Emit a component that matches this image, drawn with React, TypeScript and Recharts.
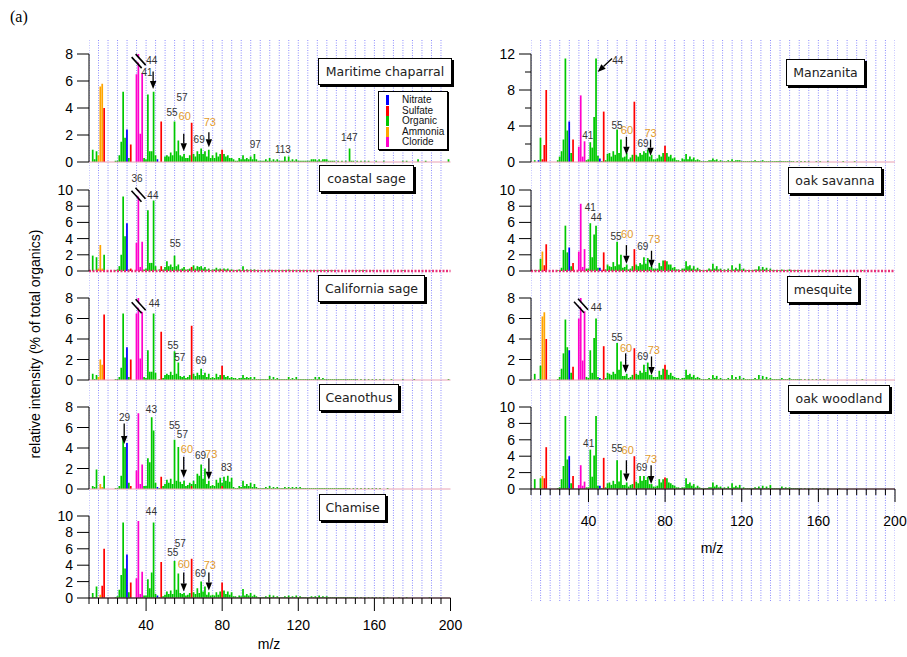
import { BarChart, Bar, XAxis, YAxis, ReferenceLine, ReferenceDot, CartesianGrid } from 'recharts';

type Ion = [number, string, number]; // m/z, species, value
type Note = [number, number, string, string?]; // m/z, y, text, colour flag
type Arrow = [number, number, number, number]; // x1, y1, x2, y2 (data units)
type Brk = [number, number]; // m/z, y of the axis break glyph

// ---- axes ----
const mzTicks = [10, 15, 20, 25, 30, 35, 40, 45, 50, 55, 60, 65, 70, 75, 80, 85, 90, 95, 100, 105, 110,
  115, 120, 125, 130, 135, 140, 145, 150, 155, 160, 165, 170, 175, 180, 185, 190, 195, 200];
const mzLabels = [40, 80, 120, 160, 200];
const yTicks8 = [0, 2, 4, 6, 8];
const yTicks10 = [0, 2, 4, 6, 8, 10];
const yTicks12 = [0, 2, 4, 6, 8, 10, 12];
const yLabels12 = [0, 4, 8, 12];

const legendKeys = ['N', 'S', 'O', 'A', 'C'];
const legendNames = ['Nitrate', 'Sulfate', 'Organic', 'Ammonia', 'Cloride'];

// ---- organic spectra, m/z 10, 11, 12 ... (10 values per row) ----
const maritimeOrg = [
  0, 0, 0.9, 0.2, 0.8, 0, 0, 0, 0, 0,
  0, 0, 0, 0, 0.1, 0.1, 0.5, 1.5, 5.2, 1.8,
  0, 0.3, 0, 0, 0, 0, 0, 0, 0, 0.3,
  0.2, 5.0, 0.8, 0.8, 5.2, 0.5, 0, 0, 0, 0,
  0.4, 0.5, 0.4, 0.7, 0.5, 3.0, 0.8, 1.6, 0.5, 0.4,
  0.6, 0.3, 0.3, 0.5, 0, 0.6, 0.4, 0.8, 0.6, 1.0,
  0.6, 0.8, 0.4, 0.9, 0.3, 0.5, 0.3, 0.7, 0.4, 0.6,
  0, 0.6, 0.4, 0.5, 0.3, 0.3, 0.2, 0.1, 0.1, 0.3,
  0.2, 0.5, 0.2, 0.3, 0.2, 0.4, 0.2, 0.6, 0.2, 0.1,
  0.1, 0.1, 0.1, 0.2, 0.1, 0.3, 0.1, 0.2, 0.1, 0.2,
  0.1, 0.1, 0.1, 0.4, 0.1, 0.4, 0.1, 0.2, 0.1, 0.2,
  0.1, 0.1, 0.1, 0.1, 0.1, 0.1, 0.1, 0.2, 0.2, 0.2,
  0.1, 0.2, 0.1, 0.2, 0.2, 0.2, 0.1, 0.1, 0.1, 0.1,
  0, 0.1, 0, 0.1, 0, 0.1, 0, 1.0, 0.1, 0.1,
  0, 0.1, 0, 0.1, 0, 0.1, 0, 0.1, 0, 0,
  0, 0.1, 0, 0, 0, 0.1, 0, 0, 0, 0,
  0, 0, 0, 0, 0, 0.1, 0, 0.1, 0, 0,
  0, 0, 0, 0.2, 0, 0, 0, 0.1, 0, 0,
  0, 0, 0, 0, 0, 0, 0, 0, 0, 0.2,
];
const coastalOrg = [
  0, 0, 1.9, 0, 1.7, 0, 0, 0, 2.0, 0,
  0, 0, 0, 0, 0.1, 0.2, 0.6, 2.0, 9.2, 4.3,
  0, 0.2, 0, 0, 0, 0, 0, 0, 0, 0.2,
  0.3, 7.5, 1.0, 1.0, 8.7, 0.6, 0, 0.2, 0, 0.2,
  0.5, 1.2, 0.6, 0.8, 0.5, 1.9, 0.6, 0.8, 0.2, 0.3,
  0.5, 0.2, 0.2, 0.3, 0, 0.7, 0.3, 0.6, 0.5, 0.6,
  0.3, 0.5, 0.2, 0.3, 0.1, 0.2, 0.2, 0.4, 0.2, 0.3,
  0, 0.3, 0.2, 0.3, 0.1, 0.2, 0.1, 0.1, 0.1, 0.2,
  0.1, 0.6, 0.1, 0.2, 0.1, 0.2, 0.1, 0.2, 0.1, 0.1,
  0.1, 0.1, 0.1, 0.1, 0.1, 0.2, 0.1, 0.1, 0.1, 0.1,
  0.1, 0.1, 0.1, 0.1, 0.1, 0.2, 0.1, 0.1, 0.1, 0.1,
  0.1, 0.1, 0.1, 0.1, 0.1, 0.1, 0.1, 0.1, 0.1, 0.1,
  0.1, 0.1, 0.1, 0.1, 0.1, 0.1, 0.1, 0.1, 0.1, 0.1,
  0, 0.1, 0, 0.1, 0, 0.1, 0, 0.1, 0, 0.1,
  0, 0.1, 0, 0.1, 0, 0.1, 0, 0, 0, 0.1,
  0, 0, 0, 0.1, 0, 0, 0, 0, 0, 0,
  0, 0, 0, 0, 0, 0.1, 0, 0, 0, 0,
];
const californiaOrg = [
  0, 0, 0.6, 0.1, 0.5, 0, 0, 0, 0, 0,
  0, 0, 0, 0, 0.1, 0.1, 0.3, 1.2, 6.5, 2.2,
  0, 0.3, 0, 0, 0, 0, 0, 0, 0, 0.3,
  0.2, 2.9, 0.8, 0.8, 6.5, 0.7, 0, 0.1, 0, 0.2,
  0.5, 0.6, 0.5, 0.8, 0.5, 2.8, 0.6, 1.7, 0.4, 0.3,
  0.4, 0.2, 0.3, 0.5, 0, 0.6, 0.4, 0.7, 0.5, 1.1,
  0.5, 0.7, 0.3, 0.6, 0.2, 0.3, 0.2, 0.6, 0.3, 0.5,
  0, 0.5, 0.3, 0.4, 0.2, 0.3, 0.2, 0.2, 0.1, 0.2,
  0.2, 0.5, 0.2, 0.3, 0.2, 0.3, 0.1, 0.3, 0.1, 0.1,
  0.1, 0.1, 0.1, 0.1, 0.1, 0.4, 0.1, 0.3, 0.1, 0.2,
  0.1, 0.1, 0.1, 0.1, 0.1, 0.3, 0.1, 0.2, 0.1, 0.3,
  0.1, 0.1, 0.1, 0.1, 0.1, 0.1, 0.1, 0.1, 0.1, 0.3,
  0.1, 0.3, 0.1, 0.2, 0.1, 0.1, 0.1, 0.1, 0.1, 0.1,
  0.1, 0.1, 0.1, 0.1, 0.1, 0.1, 0.1, 0.1, 0.1, 0.1,
  0.1, 0.1, 0, 0.1, 0, 0.1, 0, 0.1, 0, 0.1,
  0, 0.1, 0, 0.1, 0, 0.1, 0, 0, 0, 0.1,
  0, 0, 0, 0, 0, 0.1, 0, 0, 0, 0,
  0, 0.1, 0, 0, 0, 0, 0, 0, 0, 0,
  0, 0, 0, 0, 0, 0, 0, 0, 0, 0.1,
];
const ceanothusOrg = [
  0, 0, 0.3, 0.2, 1.9, 0, 0, 0, 1.3, 0,
  0, 0, 0, 0, 0.1, 0.1, 0.3, 1.3, 4.9, 4.1,
  0, 0.6, 0, 0, 0, 0, 0, 0, 0, 0.3,
  0.3, 3.0, 2.6, 7.0, 5.7, 0.6, 0, 0.1, 0, 0.3,
  0.5, 0.9, 0.6, 1.0, 0.5, 4.8, 0.8, 4.1, 0.7, 0.5,
  0.8, 0.3, 0.4, 0.6, 0.2, 0.8, 0.5, 1.5, 1.3, 2.4,
  1.0, 2.0, 0.5, 0.8, 0.3, 0.4, 0.3, 0.9, 0.6, 1.1,
  0.3, 1.2, 0.8, 1.3, 0.7, 1.1, 0.2, 0.1, 0.1, 0.3,
  0.2, 0.8, 0.3, 0.5, 0.3, 0.6, 0.2, 0.5, 0.2, 0.1,
  0.1, 0.1, 0.1, 0.2, 0.1, 0.3, 0.1, 0.2, 0.1, 0.2,
  0.1, 0.1, 0.1, 0.2, 0.1, 0.2, 0.1, 0.2, 0.1, 0.2,
  0.1, 0.2, 0.1, 0.1, 0.1, 0.1, 0.1, 0.1, 0.1, 0.1,
  0.1, 0.1, 0.1, 0.1, 0.1, 0.1, 0.1, 0.1, 0.1, 0.1,
  0.1, 0.1, 0.1, 0.1, 0.1, 0.1, 0.1, 0.1, 0, 0.1,
  0, 0.1, 0, 0.1, 0, 0.1, 0, 0.1, 0, 0.1,
  0, 0.1, 0, 0.1, 0, 0, 0, 0.1, 0, 0,
];
const chamiseOrg = [
  0, 0, 0.6, 0.1, 1.4, 0, 0, 0, 0, 0,
  0, 0, 0, 0, 0.1, 0.2, 1.0, 2.8, 9.2, 3.6,
  0, 0.7, 0, 0, 0, 0, 0, 0, 0, 0.3,
  0.3, 2.3, 1.2, 3.1, 9.2, 0.5, 0, 0.1, 0, 0.2,
  0.4, 0.8, 0.5, 0.9, 0.5, 4.5, 1.0, 3.0, 0.6, 0.5,
  0.6, 0.3, 0.4, 0.6, 0, 0.7, 0.5, 1.2, 0.6, 2.0,
  0.8, 1.4, 0.4, 0.7, 0.3, 0.4, 0.3, 0.7, 0.4, 0.8,
  0, 0.9, 0.5, 0.8, 0.4, 0.7, 0.2, 0.2, 0.1, 0.3,
  0.2, 1.1, 0.3, 0.5, 0.3, 0.6, 0.2, 0.4, 0.2, 0.1,
  0.1, 0.1, 0.1, 0.2, 0.1, 0.4, 0.1, 0.3, 0.1, 0.2,
  0.1, 0.1, 0.1, 0.2, 0.1, 0.3, 0.1, 0.2, 0.1, 0.3,
  0.1, 0.2, 0.1, 0.1, 0.1, 0.1, 0.1, 0.2, 0.1, 0.2,
  0.1, 0.3, 0.1, 0.2, 0.1, 0.2, 0.1, 0.1, 0.1, 0.1,
  0.1, 0.1, 0.1, 0.1, 0.1, 0.1, 0.1, 0.1, 0.1, 0.1,
  0.1, 0.1, 0, 0.1, 0, 0.1, 0, 0.1, 0, 0.1,
  0, 0.1, 0, 0.1, 0, 0.1, 0, 0.1, 0, 0,
  0, 0, 0, 0.1, 0, 0, 0, 0.1, 0, 0,
  0, 0, 0, 0, 0, 0, 0, 0, 0, 0.1,
];
const manzanitaOrg = [
  0, 0, 0.2, 0, 0, 2.7, 0, 0, 0, 0,
  0, 0, 0, 0, 0.2, 0.6, 1.2, 2.5, 11.5, 3.5,
  0, 1.0, 0, 0, 0, 0, 0, 0, 0, 0.2,
  0.3, 2.2, 1.6, 5.0, 11.5, 0.7, 0, 0.1, 0, 0.2,
  0.9, 1.0, 0.6, 1.2, 0.8, 3.6, 1.0, 2.5, 0.5, 0.6,
  1.0, 0.3, 0.5, 0.8, 0, 0.8, 0.6, 1.0, 0.8, 1.2,
  1.0, 1.4, 0.6, 0.8, 0.3, 0.3, 0.4, 0.8, 0.6, 1.0,
  0, 1.0, 0.6, 0.8, 0.4, 0.5, 0.2, 0.2, 0.1, 0.4,
  0.3, 0.9, 0.3, 0.6, 0.3, 0.5, 0.2, 0.3, 0.2, 0.1,
  0.1, 0.1, 0.1, 0.2, 0.2, 0.4, 0.2, 0.3, 0.1, 0.2,
  0.1, 0.1, 0.1, 0.2, 0.1, 0.3, 0.1, 0.2, 0.2, 0.2,
  0.1, 0.1, 0.1, 0.1, 0.1, 0.1, 0.1, 0.2, 0.1, 0.1,
  0.1, 0.2, 0.1, 0.1, 0.1, 0.1, 0.1, 0.1, 0.1, 0.1,
  0.1, 0.1, 0.1, 0.1, 0.1, 0.1, 0.1, 0.1, 0, 0.1,
  0, 0.1, 0, 0.1, 0, 0.1, 0, 0, 0, 0.1,
  0, 0.1, 0, 0, 0, 0.1, 0, 0, 0, 0,
  0, 0, 0, 0.1, 0, 0, 0, 0, 0, 0.1,
];
const savannaOrg = [
  0, 0, 0.1, 0.1, 0, 1.5, 0, 0, 0, 0,
  0, 0, 0, 0, 0.1, 0.1, 0.4, 2.6, 5.6, 2.3,
  0, 0.6, 0, 0, 0, 0, 0, 0, 0, 0.3,
  0.3, 5.9, 1.7, 4.5, 5.6, 0.4, 0, 0.1, 0, 0.2,
  0.8, 0.6, 0.5, 1.1, 0.6, 3.6, 0.8, 2.0, 0.4, 0.5,
  0.8, 0.2, 0.3, 0.6, 0, 0.8, 0.6, 1.0, 0.8, 1.7,
  0.9, 1.6, 0.5, 0.6, 0.3, 0.3, 0.3, 1.0, 0.6, 1.3,
  0, 1.2, 0.8, 0.8, 0.4, 0.5, 0.2, 0.2, 0.1, 0.3,
  0.3, 1.2, 0.6, 0.7, 0.3, 0.6, 0.2, 0.4, 0.2, 0.1,
  0.1, 0.1, 0.1, 0.3, 0.2, 0.9, 0.3, 0.6, 0.2, 0.3,
  0.1, 0.2, 0.1, 0.3, 0.1, 0.7, 0.2, 0.4, 0.2, 0.9,
  0.2, 0.3, 0.1, 0.1, 0.1, 0.1, 0.1, 0.2, 0.2, 0.6,
  0.2, 0.5, 0.2, 0.4, 0.1, 0.3, 0.1, 0.1, 0.1, 0.1,
  0.1, 0.2, 0.1, 0.1, 0.1, 0.2, 0.1, 0.1, 0.1, 0.1,
  0.1, 0.1, 0, 0.1, 0, 0.1, 0, 0.1, 0, 0.1,
  0, 0.1, 0, 0.1, 0, 0.1, 0, 0, 0, 0,
  0, 0, 0, 0, 0, 0, 0, 0, 0, 0,
  0, 0, 0, 0.1, 0, 0, 0, 0, 0, 0,
];
const mesquiteOrg = [
  0, 0, 0.6, 0, 0, 1.4, 0, 0, 0, 0,
  0, 0, 0, 0, 0.1, 0.3, 1.1, 2.6, 5.9, 3.2,
  0, 0.7, 0, 0, 0, 0, 0, 0, 0, 0.3,
  0.2, 2.9, 0.7, 4.1, 6.0, 0.3, 0, 0.1, 0, 0.2,
  0.7, 0.6, 0.5, 0.8, 0.6, 3.6, 1.0, 1.8, 0.4, 0.4,
  0.6, 0.2, 0.3, 0.5, 0, 0.6, 0.5, 0.9, 0.7, 1.5,
  0.8, 1.7, 0.5, 0.5, 0.3, 0.3, 0.3, 0.9, 0.5, 1.1,
  0, 1.0, 0.5, 0.7, 0.4, 0.3, 0.2, 0.2, 0.1, 0.2,
  0.2, 1.0, 0.5, 0.6, 0.3, 0.5, 0.2, 0.3, 0.2, 0.1,
  0.1, 0.1, 0.1, 0.2, 0.1, 0.5, 0.2, 0.4, 0.1, 0.2,
  0.1, 0.1, 0.1, 0.2, 0.1, 0.5, 0.1, 0.3, 0.1, 0.4,
  0.1, 0.2, 0.1, 0.1, 0.1, 0.1, 0.1, 0.2, 0.1, 0.5,
  0.1, 0.4, 0.1, 0.3, 0.1, 0.2, 0.1, 0.1, 0.1, 0.1,
  0.1, 0.2, 0.1, 0.1, 0.1, 0.2, 0.1, 0.1, 0.1, 0.1,
  0.1, 0.1, 0, 0.1, 0, 0.1, 0, 0.1, 0, 0.1,
  0, 0.1, 0, 0.1, 0, 0, 0, 0, 0, 0,
  0, 0, 0, 0, 0, 0, 0, 0, 0, 0,
  0, 0, 0, 0.1, 0, 0, 0, 0, 0, 0,
];
const woodlandOrg = [
  0, 0, 1.2, 0, 0, 1.3, 0, 0, 0, 0,
  0, 0, 0, 0, 0.1, 0.2, 1.2, 2.8, 8.9, 3.6,
  0, 0.7, 0, 0, 0, 0, 0, 0, 0, 0.2,
  0.2, 4.8, 1.5, 4.1, 8.9, 0.4, 0, 0.1, 0, 0.2,
  0.7, 0.8, 0.5, 1.0, 0.6, 3.5, 0.9, 2.3, 0.5, 0.5,
  0.8, 0.3, 0.5, 0.6, 0, 0.9, 0.7, 1.6, 1.0, 1.6,
  1.1, 1.5, 0.6, 0.6, 0.3, 0.3, 0.4, 1.2, 0.8, 1.2,
  0, 1.3, 0.8, 0.7, 0.5, 0.4, 0.2, 0.2, 0.1, 0.2,
  0.2, 1.3, 0.6, 0.8, 0.4, 0.6, 0.2, 0.4, 0.2, 0.1,
  0.1, 0.1, 0.1, 0.2, 0.2, 0.8, 0.3, 0.5, 0.2, 0.3,
  0.1, 0.2, 0.1, 0.3, 0.1, 0.7, 0.2, 0.4, 0.2, 0.5,
  0.1, 0.2, 0.1, 0.1, 0.1, 0.1, 0.1, 0.2, 0.1, 0.3,
  0.1, 0.4, 0.1, 0.3, 0.1, 0.5, 0.1, 0.1, 0.1, 0.1,
  0.1, 0.3, 0.1, 0.2, 0.1, 0.2, 0.1, 0.1, 0.1, 0.1,
  0.1, 0.1, 0, 0.1, 0, 0.1, 0, 0.1, 0, 0.1,
  0, 0.1, 0, 0.1, 0, 0.1, 0, 0, 0, 0,
  0, 0.1, 0, 0, 0, 0, 0, 0, 0, 0,
];

// ---- inorganic peaks: nitrate N, sulfate S, ammonium A, chloride C ----
const maritimeIons: Ion[] = [[15, 'A', 0.5], [16, 'A', 5.6], [17, 'A', 5.8], [18, 'S', 4.0], [30, 'N', 2.4], [32, 'S', 1.3],
  [35, 'C', 6.5], [36, 'C', 12], [37, 'C', 2.1], [38, 'C', 6.6], [46, 'N', 0.2], [48, 'S', 3.0], [64, 'S', 2.9], [80, 'S', 0.9]];
const coastalIons: Ion[] = [[15, 'A', 0.3], [16, 'A', 3.2], [17, 'A', 0.3], [30, 'N', 5.9], [32, 'S', 0.3],
  [35, 'C', 3.5], [36, 'C', 14], [37, 'C', 0.5], [38, 'C', 3.6], [48, 'S', 0.6], [64, 'S', 0.5], [80, 'S', 0.2]];
const californiaIons: Ion[] = [[15, 'A', 0.3], [16, 'A', 2.0], [17, 'A', 1.5], [18, 'S', 6.4], [30, 'N', 3.2], [32, 'S', 2.0],
  [35, 'C', 6.5], [36, 'C', 12], [37, 'C', 2.1], [38, 'C', 6.9], [48, 'S', 4.7], [64, 'S', 5.3], [80, 'S', 1.4]];
const ceanothusIons: Ion[] = [[16, 'A', 0.5], [17, 'A', 0.2], [30, 'N', 4.5], [32, 'S', 0.3],
  [35, 'C', 1.8], [36, 'C', 7.4], [37, 'C', 0.5], [38, 'C', 2.4], [46, 'N', 0.2], [48, 'S', 1.2], [64, 'S', 0.3], [80, 'S', 0.3]];
const chamiseIons: Ion[] = [[16, 'A', 0.4], [17, 'S', 1.5], [18, 'S', 6.0], [30, 'N', 5.3], [32, 'S', 1.9],
  [35, 'C', 2.4], [36, 'C', 9.4], [37, 'C', 0.5], [38, 'C', 3.2], [46, 'N', 0.3], [48, 'S', 4.4], [64, 'S', 4.8], [80, 'S', 1.9]];
const manzanitaIons: Ion[] = [[14, 'N', 0.2], [16, 'S', 0.3], [17, 'S', 1.9], [18, 'S', 8.0], [30, 'N', 4.5], [32, 'S', 2.5],
  [35, 'C', 1.7], [36, 'C', 7.4], [37, 'C', 0.6], [38, 'C', 2.3], [46, 'N', 0.4], [48, 'S', 5.6], [64, 'S', 6.7], [80, 'S', 1.8]];
const savannaIons: Ion[] = [[16, 'A', 2.4], [17, 'S', 0.7], [18, 'S', 3.3], [30, 'N', 2.9], [32, 'S', 1.0],
  [35, 'C', 2.4], [36, 'C', 8.3], [37, 'C', 0.5], [38, 'C', 2.7], [46, 'N', 0.4], [48, 'S', 2.3], [64, 'S', 2.7], [80, 'S', 1.3]];
const mesquiteIons: Ion[] = [[14, 'N', 0.1], [16, 'A', 6.2], [17, 'A', 6.6], [18, 'S', 4.0], [30, 'N', 2.9], [32, 'S', 1.3],
  [35, 'C', 6.0], [36, 'C', 10], [37, 'C', 1.9], [38, 'C', 7.2], [46, 'N', 0.2], [48, 'S', 3.3], [64, 'S', 3.1], [80, 'S', 1.5]];
const woodlandIons: Ion[] = [[16, 'A', 1.6], [17, 'S', 1.3], [18, 'S', 5.1], [30, 'N', 4.0], [32, 'S', 1.6],
  [35, 'C', 0.5], [36, 'C', 2.9], [37, 'C', 0.4], [38, 'C', 0.9], [46, 'N', 0.4], [48, 'S', 3.8], [64, 'S', 4.0], [80, 'S', 1.4]];

// ---- annotations ----
const maritimeNotes: Note[] = [[43, 7.5, '44'], [40.5, 6.6, '41'], [58.9, 4.8, '57'], [53.6, 3.7, '55'], [60.3, 3.4, '60', 'o'],
  [73.5, 3.0, '73', 'o'], [67.9, 1.7, '69'], [97.4, 1.26, '97'], [111.9, 0.96, '113'], [146.8, 1.8, '147']];
const maritimeArrows: Arrow[] = [[43.7, 6.7, 43.7, 5.4], [59.8, 2.1, 59.8, 0.8], [73, 2.2, 73, 1.1]];
const coastalNotes: Note[] = [[35.2, 11.4, '36'], [43.6, 9.3, '44'], [55.4, 3.4, '55']];
const californiaNotes: Note[] = [[44.3, 7.5, '44'], [54.2, 3.4, '55'], [57.7, 2.2, '57'], [68.9, 1.9, '69']];
const ceanothusNotes: Note[] = [[28.7, 7.0, '29'], [42.8, 7.8, '43'], [55, 6.2, '55'], [59.1, 5.3, '57'], [61.5, 3.9, '60', 'o'],
  [68.6, 3.3, '69'], [74.2, 3.4, '73', 'o'], [82.3, 2.1, '83']];
const ceanothusArrows: Arrow[] = [[28.5, 6.4, 28.5, 4.4], [59.8, 3.15, 59.8, 1.1], [73, 3.0, 73, 0.9]];
const chamiseNotes: Note[] = [[42.8, 10.5, '44'], [58, 6.7, '57'], [54, 5.6, '55'], [59.8, 4.1, '60', 'o'], [73.5, 4.0, '73', 'o'], [68.6, 3.0, '69']];
const chamiseArrows: Arrow[] = [[59.8, 3.1, 59.8, 0.8], [73, 3.1, 73, 0.9]];
const manzanitaNotes: Note[] = [[55.3, 11.3, '44'], [39.6, 3.0, '41'], [54.9, 4.1, '55'], [60.1, 3.55, '60', 'o'], [72.4, 3.2, '73', 'o'], [68.5, 2.1, '69']];
const manzanitaArrows: Arrow[] = [[52.3, 11.5, 44.8, 10.0], [59.8, 2.8, 59.8, 0.8], [72.4, 2.5, 72.4, 0.7]];
const savannaNotes: Note[] = [[41, 7.9, '41'], [44.1, 6.6, '44'], [54.4, 4.2, '55'], [60.2, 4.6, '60', 'o'], [68.4, 3.0, '69'], [74.3, 3.9, '73', 'o']];
const savannaArrows: Arrow[] = [[59.8, 3.2, 59.8, 0.9], [72.9, 2.5, 72.9, 0.4]];
const mesquiteNotes: Note[] = [[44.1, 7.1, '44'], [54.9, 4.1, '55'], [59.6, 3.15, '60', 'o'], [68.3, 2.3, '69'], [74.1, 2.9, '73', 'o']];
const mesquiteArrows: Arrow[] = [[59.4, 2.6, 59.4, 0.7], [72.9, 2.3, 72.9, 0.5]];
const woodlandNotes: Note[] = [[40.1, 5.5, '41'], [54.9, 5.0, '55'], [60.5, 4.7, '60', 'o'], [72.7, 3.7, '73', 'o'], [67.8, 2.6, '69']];
const woodlandArrows: Arrow[] = [[59.8, 3.5, 59.8, 0.9], [72.7, 2.9, 72.7, 0.6]];

const COLORS: Record<string, string> = { N: '#0000ff', S: '#ff0000', O: '#00c800', A: '#ffa500', C: '#ff00cc' };
const SANS = '"Liberation Sans", Arial, sans-serif';
const BOX_FONT = '"DejaVu Sans", Verdana, sans-serif';

interface PanelCfg {
  name: string; org: number[]; ions: Ion[]; notes: Note[]; arrows?: Arrow[]; breaks?: Brk[];
  ymax: number; yTicks: number[]; yLabels?: number[];
  left: number; width: number; top: number; bottom: number;
  xAxis?: boolean; labelDy?: number; dottedBase?: boolean; box: [number, number, number];
}

const L = { left: 88.5, width: 361.5 };
const R = { left: 530.5, width: 364 };

const panels: PanelCfg[] = [
  { name: 'Maritime chaparral', org: maritimeOrg, ions: maritimeIons, notes: maritimeNotes, arrows: maritimeArrows, breaks: [[36.1, 7.4]],
    ymax: 8, yTicks: yTicks8, ...L, top: 54, bottom: 162, box: [318, 58, 132] },
  { name: 'coastal sage', org: coastalOrg, ions: coastalIons, notes: coastalNotes, breaks: [[36, 9.3]], dottedBase: true,
    ymax: 10, yTicks: yTicks10, ...L, top: 190, bottom: 271, box: [319, 165, 93] },
  { name: 'California sage', org: californiaOrg, ions: californiaIons, notes: californiaNotes, breaks: [[36.1, 7.1]],
    ymax: 8, yTicks: yTicks8, ...L, top: 298, bottom: 380, box: [318, 275, 105] },
  { name: 'Ceanothus', org: ceanothusOrg, ions: ceanothusIons, notes: ceanothusNotes, arrows: ceanothusArrows,
    ymax: 8, yTicks: yTicks8, ...L, top: 407, bottom: 489, box: [319, 384, 78] },
  { name: 'Chamise', org: chamiseOrg, ions: chamiseIons, notes: chamiseNotes, arrows: chamiseArrows,
    ymax: 10, yTicks: yTicks10, ...L, top: 516, bottom: 598, xAxis: true, labelDy: 27, box: [319, 494, 65] },
  { name: 'Manzanita', org: manzanitaOrg, ions: manzanitaIons, notes: manzanitaNotes, arrows: manzanitaArrows,
    ymax: 12, yTicks: yTicks12, yLabels: yLabels12, ...R, top: 54, bottom: 162, box: [786, 59, 77] },
  { name: 'oak savanna', org: savannaOrg, ions: savannaIons, notes: savannaNotes, arrows: savannaArrows, dottedBase: true,
    ymax: 10, yTicks: yTicks10, ...R, top: 190, bottom: 271, box: [788, 167, 92] },
  { name: 'mesquite', org: mesquiteOrg, ions: mesquiteIons, notes: mesquiteNotes, arrows: mesquiteArrows, breaks: [[36.1, 7.15]],
    ymax: 8, yTicks: yTicks8, ...R, top: 298, bottom: 380, box: [787, 276, 70] },
  { name: 'oak woodland', org: woodlandOrg, ions: woodlandIons, notes: woodlandNotes, arrows: woodlandArrows,
    ymax: 10, yTicks: yTicks10, ...R, top: 407, bottom: 489, xAxis: true, labelDy: 32, box: [788, 385, 100] },
];

function buildRows(org: number[], ions: Ion[]) {
  const rows: Record<string, number | undefined>[] = org.map((v, i) => ({ mz: i + 10, O: v || undefined }));
  ions.forEach(([mz, sp, v]) => { rows[mz - 10][sp] = v; });
  return rows;
}

const YTick = (p: any) => {
  const v = p.payload.value;
  const labelled = !p.labels || p.labels.includes(v);
  return (
    <g>
      <line x1={p.x - (labelled ? 12 : 6)} x2={p.x} y1={p.y} y2={p.y} stroke="#000" />
      {labelled && (
        <text x={p.x - 16} y={p.y} textAnchor="end" dominantBaseline="central" fontSize={14} fontFamily={SANS} fill="#000">{v}</text>
      )}
    </g>
  );
};

const XTick = (p: any) => {
  const v = p.payload.value;
  const major = mzLabels.includes(v);
  return (
    <g>
      <line x1={p.x} x2={p.x} y1={p.y} y2={p.y + (major ? 13 : 6)} stroke="#000" />
      {major && (
        <text x={p.x} y={p.y + p.labelDy} textAnchor="middle" dominantBaseline="central" fontSize={14} fontFamily={SANS} fill="#000">{v}</text>
      )}
    </g>
  );
};

const ArrowShape = (p: any) => {
  const { x1, y1, x2, y2 } = p;
  const dx = x2 - x1, dy = y2 - y1;
  const len = Math.hypot(dx, dy) || 1;
  const ux = dx / len, uy = dy / len;
  const bx = x2 - ux * 8, by = y2 - uy * 8;
  const pts = `${x2},${y2} ${bx - uy * 3.2},${by + ux * 3.2} ${bx + uy * 3.2},${by - ux * 3.2}`;
  return (
    <g>
      <line x1={x1} y1={y1} x2={bx} y2={by} stroke="#000" strokeWidth={1.3} />
      <polygon points={pts} fill="#000" />
    </g>
  );
};

const BreakShape = (p: any) => {
  const { cx, cy } = p;
  return (
    <g>
      <line x1={cx - 5} y1={cy - 7} x2={cx + 5} y2={cy + 4} stroke="#fff" strokeWidth={3} />
      <line x1={cx - 7} y1={cy - 5} x2={cx + 3} y2={cy + 6} stroke="#000" strokeWidth={1.6} />
      <line x1={cx - 3} y1={cy - 8} x2={cx + 7} y2={cy + 3} stroke="#000" strokeWidth={1.6} />
    </g>
  );
};

const NoteText = ({ cx, cy, text, orange }: any) => (
  <text x={cx} y={cy} textAnchor="middle" dominantBaseline="central" fontSize={orange ? 11 : 10}
    fontFamily={SANS} fill={orange ? '#e39b2c' : '#333'}>{text}</text>
);

function Panel({ cfg }: { cfg: PanelCfg }) {
  const rows = buildRows(cfg.org, cfg.ions);
  const ML = 50, MT = 24, MR = 16;
  const XH = cfg.xAxis ? 50 : 0;
  const MB = cfg.xAxis ? 0 : 10;
  const plotH = cfg.bottom - cfg.top;
  return (
    <div style={{ position: 'absolute', left: cfg.left - ML, top: cfg.top - MT }}>
      <BarChart width={ML + cfg.width + MR} height={MT + plotH + XH + MB} data={rows}
        margin={{ top: MT, right: MR, bottom: MB, left: 0 }} barGap={0} barCategoryGap={0}>
        <XAxis type="number" dataKey="mz" domain={[10, 200]} allowDataOverflow ticks={mzTicks} interval={0}
          hide={!cfg.xAxis} height={XH} tickSize={0} tickMargin={0} tickLine={false}
          axisLine={{ stroke: '#000' }} tick={(p: any) => <XTick {...p} labelDy={cfg.labelDy} />} />
        <YAxis type="number" domain={[0, cfg.ymax]} allowDataOverflow ticks={cfg.yTicks} interval={0}
          width={ML} tickSize={0} tickMargin={0} tickLine={false} axisLine={{ stroke: '#000' }}
          tick={(p: any) => <YTick {...p} labels={cfg.yLabels} />} />
        <ReferenceLine y={0} stroke={cfg.dottedBase ? '#e8307a' : '#e8a0b4'} strokeWidth={cfg.dottedBase ? 2.5 : 1}
          strokeDasharray={cfg.dottedBase ? '2 1.5' : undefined} />
        <Bar dataKey="S" stackId="s" fill={COLORS.S} barSize={2.4} isAnimationActive={false} />
        <Bar dataKey="N" stackId="s" fill={COLORS.N} barSize={2.4} isAnimationActive={false} />
        <Bar dataKey="A" stackId="s" fill={COLORS.A} barSize={2.4} isAnimationActive={false} />
        <Bar dataKey="C" stackId="s" fill={COLORS.C} barSize={2.4} isAnimationActive={false} />
        <Bar dataKey="O" stackId="s" fill={COLORS.O} barSize={2.4} isAnimationActive={false} />
        {(cfg.breaks || []).map(([x, y], i) => (
          <ReferenceDot key={`b${i}`} x={x} y={y} r={1} ifOverflow="visible" shape={(p: any) => <BreakShape {...p} />} />
        ))}
        {(cfg.arrows || []).map(([x1, y1, x2, y2], i) => (
          <ReferenceLine key={`a${i}`} segment={[{ x: x1, y: y1 }, { x: x2, y: y2 }]} ifOverflow="visible"
            stroke="#000" shape={(p: any) => <ArrowShape {...p} />} />
        ))}
        {cfg.notes.map(([x, y, text, c], i) => (
          <ReferenceDot key={`n${i}`} x={x} y={y} r={1} ifOverflow="visible"
            shape={(p: any) => <NoteText cx={p.cx} cy={p.cy} text={text} orange={c === 'o'} />} />
        ))}
      </BarChart>
    </div>
  );
}

// dotted vertical guide lines running through the whole column
function GridColumn({ left, width, height }: { left: number; width: number; height: number }) {
  return (
    <div style={{ position: 'absolute', left, top: 40 }}>
      <BarChart width={width} height={height} data={mzTicks.map((v) => ({ mz: v, h: 0 }))}
        margin={{ top: 0, right: 0, bottom: 0, left: 0 }}>
        <CartesianGrid horizontal={false} vertical stroke="#8c8cff" strokeDasharray="1 1.5" />
        <XAxis type="number" dataKey="mz" domain={[10, 200]} ticks={mzTicks} interval={0} hide />
        <YAxis type="number" hide domain={[0, 1]} />
        <Bar dataKey="h" fill="none" isAnimationActive={false} />
      </BarChart>
    </div>
  );
}

export default function App() {
  return (
    <div style={{ position: 'fixed', left: 0, top: 0, width: 907, height: 657, background: '#fff', overflow: 'hidden', fontFamily: SANS }}>
      <GridColumn left={L.left} width={L.width} height={558} />
      <GridColumn left={R.left} width={R.width} height={562} />
      {panels.map((cfg) => <Panel key={cfg.name} cfg={cfg} />)}

      {panels.map((cfg) => (
        <div key={`box-${cfg.name}`} style={{
          position: 'absolute', left: cfg.box[0], top: cfg.box[1], width: cfg.box[2], height: 25,
          border: '1px solid #000', boxShadow: '2px 2px 0 #000', background: '#fff',
          font: `12.5px ${BOX_FONT}`, lineHeight: '25px', textAlign: 'center', whiteSpace: 'nowrap', color: '#222',
        }}>{cfg.name}</div>
      ))}

      <div style={{ position: 'absolute', left: 378, top: 91, width: 68, height: 57, border: '1px solid #000',
        boxShadow: '1px 1px 0 #000', background: '#fff' }}>
        {legendNames.map((n, i) => (
          <div key={n} style={{ position: 'absolute', left: 7, top: 3 + i * 10.5, height: 10, display: 'flex', alignItems: 'center' }}>
            <span style={{ display: 'inline-block', width: 3, height: 10, background: COLORS[legendKeys[i]] }} />
            <span style={{ marginLeft: 13, fontSize: 10, fontFamily: SANS, color: '#111', lineHeight: '10px' }}>{n}</span>
          </div>
        ))}
      </div>

      <div style={{ position: 'absolute', left: 10, top: 8, fontFamily: '"Liberation Serif", serif', fontSize: 16 }}>(a)</div>
      <div style={{ position: 'absolute', left: 35, top: 344, transform: 'translate(-50%, -50%) rotate(-90deg)',
        whiteSpace: 'nowrap', fontSize: 14, fontFamily: SANS }}>relative intensity (% of total organics)</div>
      <div style={{ position: 'absolute', left: 269, top: 644, transform: 'translate(-50%, -50%)', fontSize: 14 }}>m/z</div>
      <div style={{ position: 'absolute', left: 712, top: 548, transform: 'translate(-50%, -50%)', fontSize: 14 }}>m/z</div>
    </div>
  );
}
